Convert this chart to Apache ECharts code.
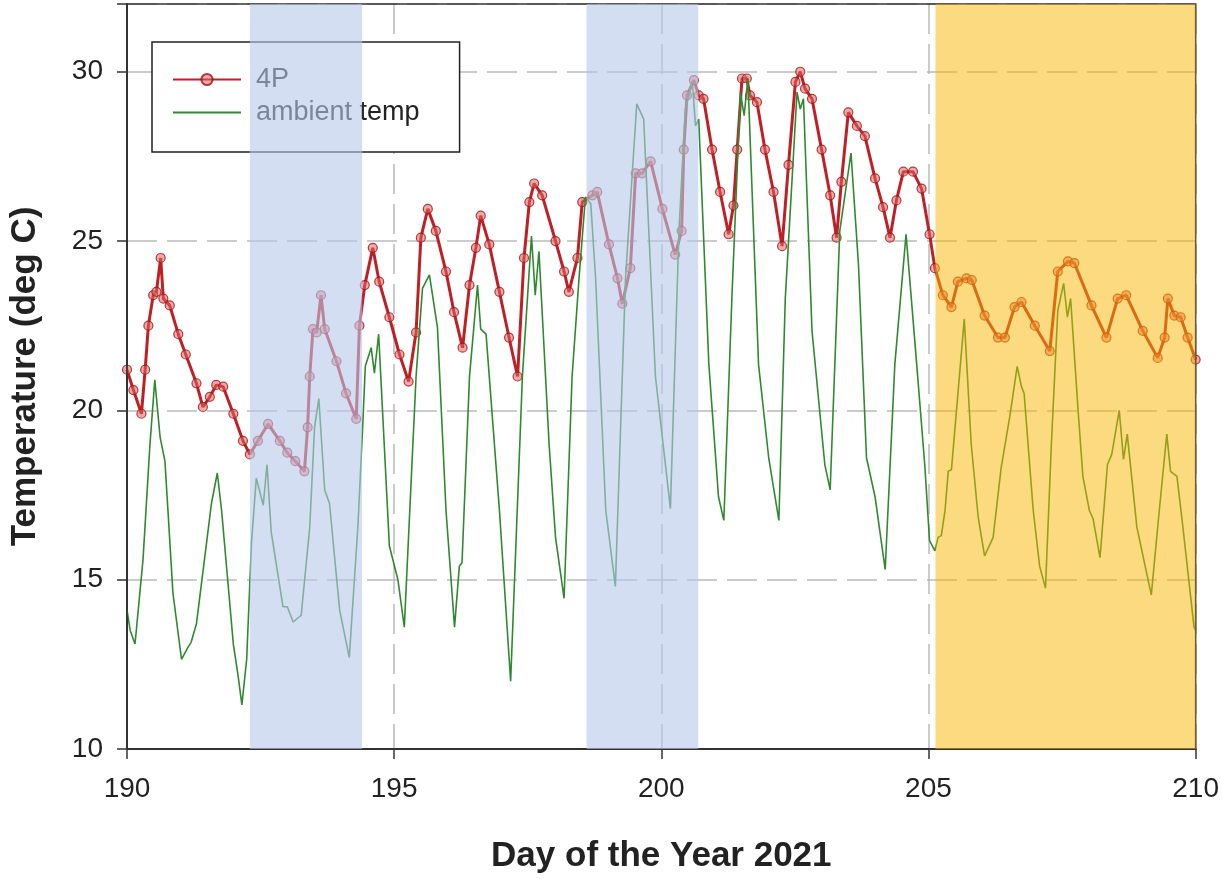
<!DOCTYPE html>
<html>
<head>
<meta charset="utf-8">
<script src="https://cdn.jsdelivr.net/npm/echarts@6/dist/echarts.min.js"></script>
<style>
html,body{margin:0;padding:0;background:#fff;overflow:hidden;}
#chart{width:1222px;height:879px;}
</style>
</head>
<body>
<div id="chart"></div>
<script>
// ---- data ----
const days4P = [190.00,190.12,190.27,190.34,190.40,190.49,190.55,190.63,190.68,190.80,190.96,191.10,191.30,191.42,191.55,191.67,191.80,191.99,192.17,192.30,192.45,192.64,192.86,193.00,193.15,193.32,193.38,193.42,193.48,193.55,193.63,193.70,193.92,194.10,194.29,194.35,194.45,194.60,194.72,194.91,195.10,195.27,195.41,195.50,195.63,195.78,195.97,196.12,196.28,196.41,196.53,196.62,196.78,196.97,197.15,197.31,197.43,197.53,197.62,197.77,198.02,198.18,198.27,198.43,198.52,198.71,198.80,199.02,199.18,199.27,199.42,199.52,199.64,199.80,200.02,200.26,200.38,200.42,200.48,200.61,200.70,200.79,200.95,201.10,201.26,201.35,201.42,201.51,201.60,201.66,201.79,201.94,202.10,202.26,202.38,202.51,202.60,202.69,202.82,203.00,203.16,203.28,203.37,203.50,203.66,203.81,204.00,204.15,204.28,204.40,204.53,204.71,204.87,205.02,205.12,205.27,205.43,205.55,205.71,205.81,206.05,206.30,206.43,206.61,206.74,206.99,207.27,207.42,207.61,207.73,208.05,208.33,208.54,208.70,209.01,209.29,209.42,209.48,209.60,209.72,209.85,210.00];
const temps4P = [21.2,20.6,19.9,21.2,22.5,23.4,23.5,24.5,23.3,23.1,22.25,21.65,20.8,20.1,20.4,20.75,20.7,19.9,19.1,18.7,19.1,19.6,19.1,18.75,18.5,18.2,19.5,21.0,22.4,22.3,23.4,22.4,21.45,20.5,19.75,22.5,23.7,24.8,23.8,22.75,21.65,20.85,22.3,25.1,25.95,25.3,24.1,22.9,21.85,23.7,24.8,25.75,24.9,23.5,22.15,21.0,24.5,26.15,26.7,26.35,25.0,24.1,23.5,24.5,26.15,26.35,26.45,24.9,23.9,23.15,24.2,27.0,27.0,27.35,25.95,24.6,25.3,27.7,29.3,29.75,29.3,29.2,27.7,26.45,25.2,26.05,27.7,29.8,29.8,29.3,29.1,27.7,26.45,24.85,27.25,29.7,30.0,29.5,29.2,27.7,26.35,25.1,26.75,28.8,28.4,28.1,26.85,26.0,25.1,26.2,27.05,27.05,26.55,25.2,24.2,23.4,23.05,23.8,23.9,23.85,22.8,22.15,22.15,23.05,23.2,22.5,21.75,24.1,24.4,24.35,23.1,22.15,23.3,23.4,22.35,21.55,22.15,23.3,22.8,22.75,22.15,21.5];

const daysAmb = [190.00,190.06,190.15,190.30,190.43,190.52,190.62,190.71,190.86,191.02,191.14,191.20,191.30,191.49,191.58,191.69,191.77,191.99,192.08,192.15,192.24,192.33,192.42,192.55,192.62,192.70,192.92,193.00,193.11,193.26,193.42,193.51,193.59,193.70,193.79,193.98,194.16,194.32,194.41,194.46,194.57,194.63,194.71,194.91,195.07,195.19,195.41,195.53,195.66,195.81,195.97,196.13,196.22,196.27,196.41,196.56,196.62,196.72,196.97,197.18,197.40,197.57,197.64,197.71,197.90,198.02,198.18,198.33,198.46,198.58,198.68,198.77,198.96,199.14,199.33,199.54,199.67,199.89,200.17,200.33,200.45,200.58,200.64,200.70,200.89,201.07,201.17,201.32,201.48,201.55,201.62,201.82,202.01,202.20,202.32,202.54,202.60,202.66,202.82,203.06,203.16,203.34,203.55,203.69,203.84,204.00,204.19,204.37,204.58,204.78,204.93,205.02,205.12,205.18,205.24,205.31,205.37,205.43,205.67,205.80,205.93,206.05,206.21,206.36,206.52,206.66,206.74,206.79,206.96,207.08,207.19,207.30,207.42,207.53,207.60,207.66,207.80,207.89,208.01,208.08,208.21,208.35,208.43,208.57,208.65,208.72,208.90,209.17,209.32,209.46,209.53,209.65,209.74,209.97,210.00];
const tempsAmb = [14.1,13.5,13.1,15.6,19.0,20.9,19.2,18.5,14.6,12.65,13.0,13.15,13.7,16.1,17.25,18.15,17.05,13.1,12.15,11.3,12.65,16.1,18.0,17.2,18.4,16.4,14.2,14.2,13.75,13.95,16.55,19.5,20.35,17.65,17.25,14.1,12.7,16.55,19.5,21.3,21.85,21.1,22.25,16.0,15.0,13.6,21.0,23.6,24.0,22.45,17.05,13.6,15.4,15.5,21.0,23.7,22.4,22.25,17.05,12.0,21.0,25.15,23.4,24.7,19.0,16.25,14.45,21.0,23.9,26.3,26.1,23.9,17.05,14.8,23.9,29.05,28.6,21.0,17.1,25.3,28.9,29.7,28.4,28.6,21.35,17.45,16.75,23.3,29.4,28.7,29.8,21.35,18.6,16.75,23.3,29.4,28.9,29.2,22.35,18.4,17.65,25.3,27.6,24.3,18.6,17.45,15.3,21.35,25.2,21.35,18.4,16.15,15.85,16.25,16.3,17.05,18.2,18.25,22.7,19.0,16.85,15.7,16.25,18.3,19.8,21.3,20.7,20.5,17.05,15.4,14.75,19.0,22.95,23.75,22.75,23.3,20.0,18.05,17.05,16.8,15.65,18.4,18.7,20.0,18.55,19.3,16.55,14.55,17.05,19.3,18.2,18.05,16.85,13.6,13.5];

const blueBands = [[192.30, 194.40], [198.60, 200.69]];
const yellowBands = [[205.13, 210.00]];
const xTicks = [190, 195, 200, 205, 210];
const yTicks = [10, 15, 20, 25, 30];
const xRange = [190, 210];
const yRange = [10, 32];

const seriesNames = ['4P', 'ambient temp'];
const xTitle = 'Day of the Year 2021';
const yTitle = 'Temperature (deg C)';

// ---- chart ----
const pairs = (xs, ys) => xs.map((x, i) => [x, ys[i]]);
const FONT = '"Liberation Sans", Arial, sans-serif';

const chart = echarts.init(document.getElementById('chart'), null, {renderer: 'canvas'});

const bandAreas = blueBands.map(b => [
  {xAxis: b[0], itemStyle: {color: 'rgba(183,200,233,0.6)'}},
  {xAxis: b[1]}
]).concat(yellowBands.map(b => [
  {xAxis: b[0], itemStyle: {color: 'rgba(250,182,0,0.5)'}},
  {xAxis: b[1]}
]));

chart.setOption({
  animation: false,
  backgroundColor: '#fff',
  grid: {left: 127, top: 4, width: 1071, height: 749, show: false},
  legend: {
    data: [{name: seriesNames[0]}, {name: seriesNames[1], itemStyle: {opacity: 0}}],
    orient: 'vertical',
    left: 152, top: 42,
    padding: [24, 40, 26, 20],
    itemGap: 6,
    itemWidth: 68, itemHeight: 14,
    backgroundColor: '#fff',
    borderColor: '#222', borderWidth: 1.5, borderRadius: 0,
    textStyle: {fontFamily: FONT, fontSize: 27, color: '#222', padding: [0, 0, 0, 10]}
  },
  xAxis: {
    type: 'value', min: xRange[0], max: xRange[1], interval: 5,
    name: xTitle, nameLocation: 'middle', nameGap: 90,
    nameTextStyle: {fontFamily: FONT, fontSize: 35, fontWeight: 'bold', color: '#222'},
    axisLine: {lineStyle: {color: '#333', width: 2}},
    axisTick: {show: true, length: 10, lineStyle: {color: '#333', width: 1.5}},
    axisLabel: {fontFamily: FONT, fontSize: 28, color: '#222', margin: 26,
                formatter: v => xTicks.includes(v) ? String(v) : ''},
    splitLine: {show: true, lineStyle: {color: '#bbb', width: 1.5, type: [30, 10]}}
  },
  yAxis: {
    type: 'value', min: yRange[0], max: yRange[1], interval: 5,
    name: yTitle, nameLocation: 'middle', nameGap: 84,
    nameTextStyle: {fontFamily: FONT, fontSize: 35, fontWeight: 'bold', color: '#222'},
    axisLine: {show: true, lineStyle: {color: '#333', width: 2}},
    axisTick: {show: true, length: 10, lineStyle: {color: '#333', width: 1.5}},
    axisLabel: {fontFamily: FONT, fontSize: 28, color: '#222', margin: 24,
                formatter: v => yTicks.includes(v) ? String(v) : ''},
    splitLine: {show: true, lineStyle: {color: '#bbb', width: 1.5, type: [30, 10]}}
  },
  series: [
    {
      name: seriesNames[0], type: 'line', z: 3,
      data: pairs(days4P, temps4P),
      symbol: 'circle', symbolSize: 9, showAllSymbol: true,
      lineStyle: {color: '#c02025', width: 3},
      itemStyle: {color: 'rgba(220,100,100,0.55)', borderColor: 'rgba(160,20,20,0.8)', borderWidth: 1.2}
    },
    {
      name: seriesNames[1], type: 'line', z: 4,
      data: pairs(daysAmb, tempsAmb),
      symbol: 'none',
      lineStyle: {color: '#2f8a2f', width: 1.6},
      itemStyle: {color: '#2f8a2f'}
    },
    {
      name: 'bands', type: 'line', z: 20, silent: true,
      data: [],
      markArea: {silent: true, z: 20, data: bandAreas, label: {show: false}}
    }
  ]
});

// plot frame from the grid's own scale
const pTL = chart.convertToPixel({gridIndex: 0}, [xRange[0], yRange[1]]);
const pBR = chart.convertToPixel({gridIndex: 0}, [xRange[1], yRange[0]]);
chart.setOption({
  graphic: [{
    type: 'rect', z: 12, silent: true,
    shape: {x: pTL[0], y: pTL[1], width: pBR[0] - pTL[0], height: pBR[1] - pTL[1]},
    style: {fill: null, stroke: '#333', lineWidth: 1.5}
  }]
});
</script>
</body>
</html>
